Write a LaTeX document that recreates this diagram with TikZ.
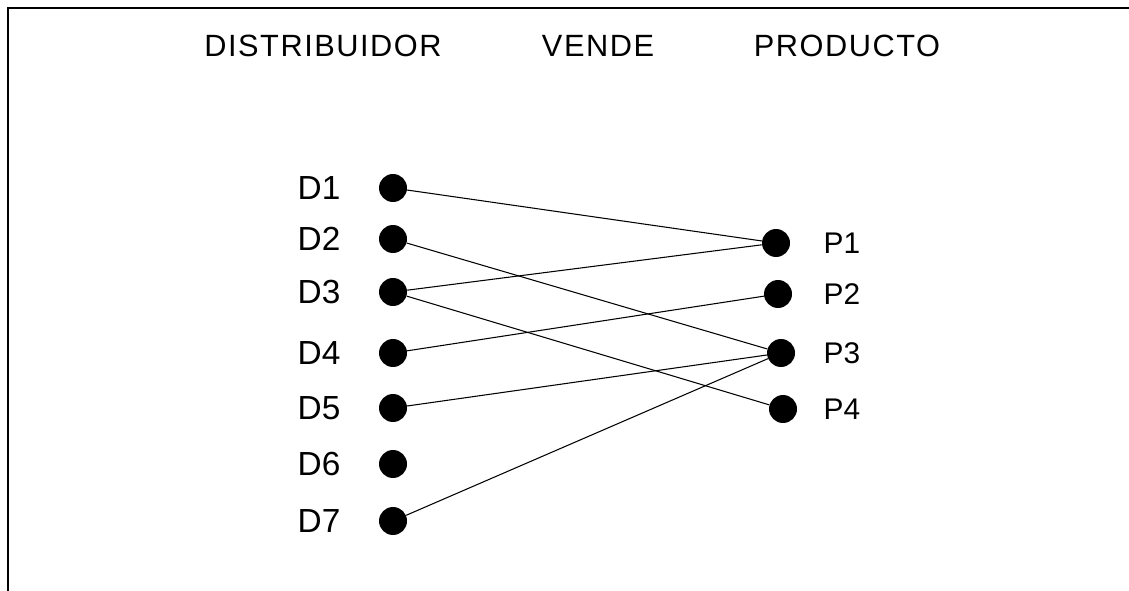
\documentclass[tikz,border=0pt]{standalone}
\usepackage{fontspec}
\setmainfont{Liberation Sans}
\newfontfamily\plotfont[LetterSpace=5]{Liberation Sans}

\begin{document}
\begin{tikzpicture}[x=0.02cm, y=-0.02cm,
    dot/.style={circle, fill=black, inner sep=0pt, minimum size=0.56cm},
    heading/.style={font=\plotfont\fontsize{17.5}{20}\selectfont},
    dname/.style={font=\fontsize{19}{22}\selectfont},
    pname/.style={font=\fontsize{17}{20}\selectfont},
    link/.style={line width=0.6pt}]
  \useasboundingbox (0,0) rectangle (1129,591);
  % frame, only the top and left edges are there
  \draw[line width=1.3pt] (8,591) -- (8,8) -- (1129,8);

  \node[heading] (distribuidor) at (323,46) {DISTRIBUIDOR};
  \node[heading] (vende) at (598,46) {VENDE};
  \node[heading] (producto) at (847,46) {PRODUCTO};

  % distribuidores on the left
  \foreach \i/\y in {1/188,2/239,3/292,4/353,5/408,6/464,7/521}{
    \node[dot] (d\i) at (393,\y) {};
    \node[dname] (dn\i) at (319,\y) {D\i};
  }
  % productos on the right
  \foreach \i/\x/\y in {1/776/243,2/778/294,3/781/353,4/783/409}{
    \node[dot] (p\i) at (\x,\y) {};
    \node[pname] (pn\i) at (842,\y) {P\i};
  }

  % who sells what
  \foreach \a/\b in {1/1,2/3,3/1,3/4,4/2,5/3,7/3}
    \draw[link] (d\a) -- (p\b);
\end{tikzpicture}
\end{document}
